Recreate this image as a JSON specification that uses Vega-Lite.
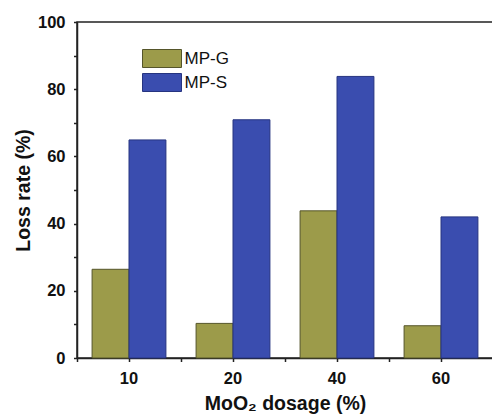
{
  "$schema": "https://vega.github.io/schema/vega-lite/v6.json",
  "autosize": "none",
  "padding": {"left": 77, "top": 22, "right": 0, "bottom": 56},
  "width": 416,
  "height": 336,
  "background": "white",
  "config": {
    "font": "Liberation Sans",
    "view": {"stroke": "#222", "strokeWidth": 1.5},
    "axis": {
      "domainColor": "#222", "domainWidth": 1.5,
      "tickColor": "#222", "tickWidth": 1.5,
      "labelFont": "Liberation Sans", "labelFontWeight": "bold", "labelFontSize": 16.5, "labelColor": "#111",
      "titleFont": "Liberation Sans", "titleFontWeight": "bold", "titleFontSize": 19.5, "titleColor": "#111",
      "grid": false
    }
  },
  "data": {"values": [
    {"dosage": "10", "series": "MP-G", "loss": 26.4},
    {"dosage": "10", "series": "MP-S", "loss": 64.9},
    {"dosage": "20", "series": "MP-G", "loss": 10.3},
    {"dosage": "20", "series": "MP-S", "loss": 70.9},
    {"dosage": "40", "series": "MP-G", "loss": 43.8},
    {"dosage": "40", "series": "MP-S", "loss": 83.8},
    {"dosage": "60", "series": "MP-G", "loss": 9.6},
    {"dosage": "60", "series": "MP-S", "loss": 42.0}
  ]},
  "resolve": {"axis": {"x": "independent", "y": "independent"}},
  "layer": [
    {
      "mark": {"type": "bar", "opacity": 0},
      "encoding": {
        "x": {"field": "dosage", "type": "ordinal", "sort": ["10", "20", "40", "60"],
          "scale": {"paddingInner": 0.29, "paddingOuter": 0.145},
          "axis": {"orient": "bottom", "title": null, "labels": false, "domain": false, "ticks": true, "tickSize": 3.5, "bandPosition": -0.204}},
        "y": {"field": "loss", "type": "quantitative",
          "scale": {"domain": [0, 100], "nice": false},
          "axis": {"orient": "left", "title": null, "labels": false, "domain": false, "ticks": true,
            "values": [0, 10, 20, 30, 40, 50, 60, 70, 80, 90, 100], "tickSize": 3.5}}
      }
    },
    {
      "mark": {"type": "bar", "opacity": 0},
      "encoding": {
        "x": {"field": "dosage", "type": "ordinal", "sort": ["10", "20", "40", "60"],
          "axis": {"orient": "bottom", "title": null, "labels": false, "domain": false, "ticks": true, "tickSize": 3.5}},
        "y": {"field": "loss", "type": "quantitative", "axis": null}
      }
    },
    {
      "mark": {"type": "bar", "strokeWidth": 1},
      "encoding": {
        "x": {"field": "dosage", "type": "ordinal", "sort": ["10", "20", "40", "60"],
          "axis": {"orient": "bottom", "title": "MoO₂ dosage (%)", "labelAngle": 0, "ticks": false, "labelPadding": 12, "titlePadding": 8}},
        "xOffset": {"field": "series", "type": "nominal", "scale": {"paddingInner": 0, "paddingOuter": 0}},
        "y": {"field": "loss", "type": "quantitative",
          "axis": {"orient": "left", "title": "Loss rate (%)", "values": [0, 20, 40, 60, 80, 100],
            "ticks": false, "labelPadding": 12, "titlePadding": 4}},
        "fill": {"field": "series", "type": "nominal",
          "scale": {"domain": ["MP-G", "MP-S"], "range": ["#9c9b4a", "#3a4daf"]},
          "legend": {"orient": "none", "legendX": 74.5, "legendY": 26, "title": null,
            "symbolType": "M-1.95,-0.9H1.95V0.9H-1.95Z", "symbolSize": 400, "symbolStrokeColor": "#333", "symbolStrokeWidth": 1,
            "labelFontSize": 17, "labelFont": "Liberation Sans", "labelColor": "#111", "labelOffset": 12, "rowPadding": 1}},
        "stroke": {"field": "series", "type": "nominal",
          "scale": {"domain": ["MP-G", "MP-S"], "range": ["#55552a", "#263480"]}, "legend": null}
      }
    }
  ]
}
